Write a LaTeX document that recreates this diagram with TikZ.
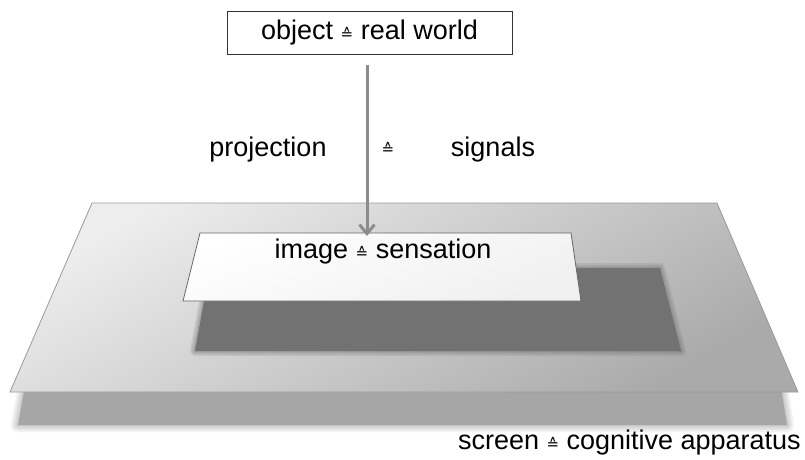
\documentclass[tikz,border=0pt]{standalone}
\usepackage{fontspec}
\setmainfont{Liberation Sans}
\newfontfamily\symfont{DejaVu Sans}
\usetikzlibrary{arrows.meta}
\newcommand{\corr}{{\symfont\fontsize{15}{15}\selectfont ≙}}
\definecolor{planeL}{HTML}{EDEDED}
\definecolor{planeD}{HTML}{AAAAAA}
\definecolor{planeEdge}{HTML}{9A9A9A}
\definecolor{shadowA}{HTML}{A6A6A6}
\definecolor{shadowB}{HTML}{727272}
\definecolor{arrowGray}{HTML}{8C8C8C}
\begin{document}
\begin{tikzpicture}[x=1pt,y=-1pt,
  lbl/.style={font=\fontsize{27}{32}\selectfont, inner sep=0pt, text=black},
  softedge/.style={line join=round, draw opacity=0.16},
  arr/.style={draw=arrowGray, line width=3pt, -{Straight Barb[length=9pt,width=15pt,line width=3pt]}}]
\useasboundingbox (0,0) rectangle (805,459);
% shadow below the screen
\foreach \w in {14,10,7,4,2}
  \draw[softedge, draw=shadowA, line width=\w pt] (26,380) -- (780,380) -- (787,425) -- (18,425) -- cycle;
\fill[shadowA] (26,380) -- (780,380) -- (787,425) -- (18,425) -- cycle;
% screen plane
\shade[top color=planeL, bottom color=planeD, shading angle=30, draw=planeEdge, line width=0.8pt]
  (92,203) -- (717,203) -- (798,392) -- (10,392) -- cycle;
% shadow of the image plane
\foreach \w in {10,7,4,2}
  \draw[softedge, draw=shadowB, line width=\w pt] (210,268) -- (660,268) -- (681,351) -- (195,351) -- cycle;
\fill[shadowB] (210,268) -- (660,268) -- (681,351) -- (195,351) -- cycle;
% image plane
\shade[top color=white, bottom color=white!94!black, shading angle=20, draw=black!60, line width=0.8pt]
  (200,233) -- (571,233) -- (581,301) -- (183,301) -- cycle;
% nodes
\node[draw=black!80, line width=1pt, minimum width=285pt, minimum height=43pt, lbl] (obj) at (369.5,32.5) {object \corr{} real world};
\coordinate (tip) at (367,236);
\draw[arr] ([xshift=-2.5pt,yshift=-10pt]obj.south) -- (tip);
\node[lbl] (proj) at (268,150) {projection};
\node[inner sep=0pt] (eq) at (388,148) {\corr};
\node[lbl] (sig) at (493,150) {signals};
\node[lbl] (img) at (383,252) {image \corr{} sensation};
\node[lbl, anchor=east] (scr) at (801,443) {screen \corr{} cognitive apparatus};
\end{tikzpicture}
\end{document}
